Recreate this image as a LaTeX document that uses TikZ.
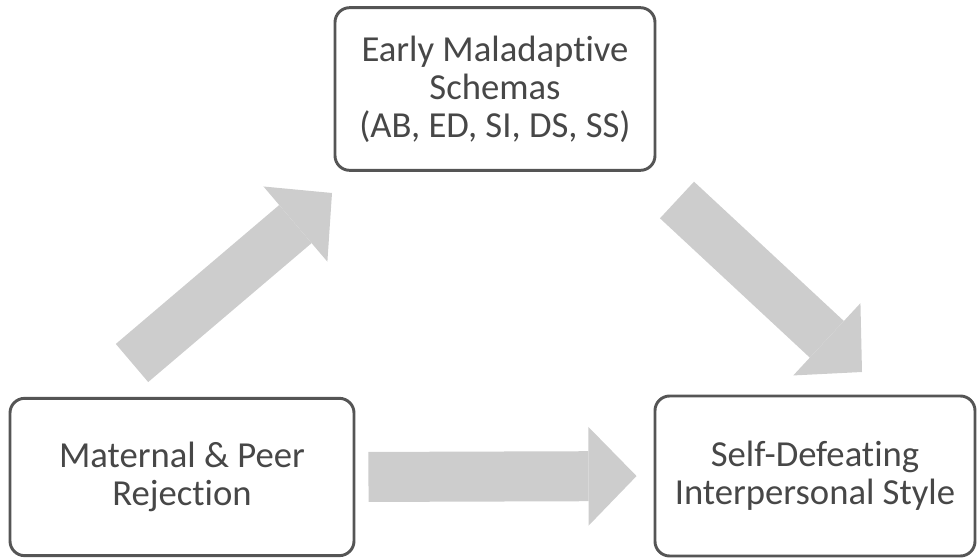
\documentclass[tikz,border=0pt]{standalone}
\usepackage{fontspec}
\setmainfont[Ligatures=NoCommon]{Carlito}
\usetikzlibrary{arrows.meta}
\definecolor{boxline}{HTML}{555555}
\definecolor{boxtext}{HTML}{474747}
\definecolor{arrowfill}{HTML}{CDCDCD}

\begin{document}
\begin{tikzpicture}[x=0.75pt, y=-0.75pt,
    box/.style={draw=boxline, line width=2.2pt, rounded corners=11pt, text=boxtext,
        align=center, font=\fontsize{27.5}{28.5}\selectfont, inner sep=0pt},
    blockarrow/.style={draw=arrowfill, line width=37.5pt,
        -{Triangle[length=36pt, width=74pt, line width=0pt]}}]
        \useasboundingbox (0,0) rectangle (979,559);
        \node[box, minimum width=240pt, minimum height=122pt] (EMS) at (495, 89) {Early Maladaptive\\Schemas\\(AB, ED, SI, DS, SS)};
        \node[box, minimum width=258pt, minimum height=118pt] (MPR) at (182, 477) {Maternal \& Peer\\Rejection};
        \node[box, minimum width=240pt, minimum height=120pt] (SDS) at (815, 476) {Self-Defeating\\Interpersonal Style};
        \coordinate (up1) at (132, 363);
        \coordinate (up2) at (332, 193);
        \coordinate (dn1) at (677, 200);
        \coordinate (dn2) at (862, 372);
        \draw[blockarrow] (up1) -- (up2);
        \draw[blockarrow] (dn1) -- (dn2);
        \draw[blockarrow, shorten <=9.75pt, shorten >=12.75pt] (MPR.east) -- (SDS.west);
    \end{tikzpicture}
\end{document}
